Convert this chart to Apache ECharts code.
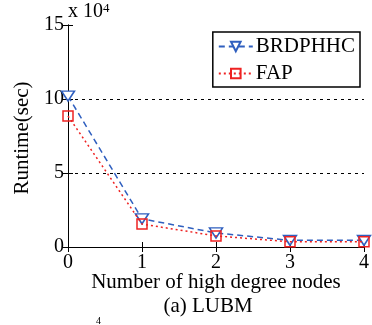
<!DOCTYPE html>
<html>
<head>
<meta charset="utf-8">
<script src="https://cdn.jsdelivr.net/npm/echarts@6/dist/echarts.min.js"></script>
<style>html,body{margin:0;padding:0;background:#fff}#c{width:372px;height:325px}</style>
</head>
<body>
<div id="c"></div>
<script>
var categories = [0, 1, 2, 3, 4];
var brdphhc = [10.2, 1.9, 0.95, 0.45, 0.45];
var fap = [8.85, 1.55, 0.75, 0.35, 0.35];
var yTicks = [0, 5, 10, 15];
var xTicks = [0, 1, 2, 3, 4];

var FONT = '"Liberation Serif", "Times New Roman", serif';
function pairs(vals){ return categories.map(function(c,i){ return [c, vals[i]]; }); }

var chart = echarts.init(document.getElementById('c'), null, {renderer:'canvas'});
var axisCommon = {
  axisLine:{show:true, lineStyle:{color:'#000', width:1}},
  axisTick:{show:true, inside:true, length:5, lineStyle:{color:'#000'}},
  splitLine:{show:false}
};
chart.setOption({
  animation:false,
  backgroundColor:'#fff',
  grid:{left:68, right:6, top:25, bottom:78, containLabel:false},
  xAxis:[
    Object.assign({type:'value', min:xTicks[0], max:xTicks[xTicks.length-1], interval:1, position:'bottom',
      axisLabel:{color:'#000', fontFamily:FONT, fontSize:20, margin:6}}, axisCommon),
    Object.assign({type:'value', min:xTicks[0], max:xTicks[xTicks.length-1], interval:1, position:'top',
      axisLabel:{show:false}}, axisCommon)
  ],
  yAxis:[
    Object.assign({type:'value', min:yTicks[0], max:yTicks[yTicks.length-1], interval:5, position:'left',
      axisLabel:{color:'#000', fontFamily:FONT, fontSize:20, margin:4}},
      axisCommon, {splitLine:{show:true, showMinLine:false, showMaxLine:false, lineStyle:{color:'#000', type:[3,4], width:1}}}),
    Object.assign({type:'value', min:yTicks[0], max:yTicks[yTicks.length-1], interval:5, position:'right',
      axisLabel:{show:false}}, axisCommon)
  ],
  legend:{
    orient:'vertical', right:12, top:32, itemWidth:34, itemHeight:12, itemGap:6,
    padding:[4,5,3,5],
    backgroundColor:'#fff', borderColor:'#000', borderWidth:1.5,
    textStyle:{color:'#000', fontFamily:FONT, fontSize:21, padding:[0,0,0,-2]},
    data:['BRDPHHC','FAP']
  },
  series:[
    {name:'BRDPHHC', type:'line', data:pairs(brdphhc), xAxisIndex:0, yAxisIndex:0,
      symbol:'triangle', symbolRotate:180, symbolSize:[13,10], showAllSymbol:true,
      itemStyle:{color:'#fff', borderColor:'#2f5fbf', borderWidth:1.5},
      lineStyle:{color:'#2f5fbf', type:[6,4], width:1.5}, z:3},
    {name:'FAP', type:'line', data:pairs(fap), xAxisIndex:0, yAxisIndex:0,
      symbol:'rect', symbolSize:10, showAllSymbol:true,
      itemStyle:{color:'rgba(255,255,255,0)', borderColor:'#ee2222', borderWidth:1.5},
      lineStyle:{color:'#ee2222', type:[2,3], width:1.5}, z:4}
  ],
  graphic:[
    {type:'text', left:68, top:2, style:{rich:{a:{fontFamily:FONT, fontSize:20, fill:'#000'}, s:{fontFamily:FONT, fontSize:13, fill:'#000', verticalAlign:'top'}}, text:'{a|x 10}{s|4}', fill:'#000'}},
    {type:'text', x:216, y:282, style:{text:'Number of high degree nodes', fontFamily:FONT, fontSize:21, fill:'#000', align:'center', verticalAlign:'middle'}},
    {type:'text', x:208, y:306, style:{text:'(a) LUBM', fontFamily:FONT, fontSize:21, fill:'#000', align:'center', verticalAlign:'middle'}},
    {type:'text', x:22, y:138, rotation:Math.PI/2, style:{text:'Runtime(sec)', fontFamily:FONT, fontSize:21, fill:'#000', align:'center', verticalAlign:'middle'}},
    {type:'text', x:96, y:316, style:{text:'4', fontFamily:FONT, fontSize:10, fill:'#000'}}
  ]
});
</script>
</body>
</html>
